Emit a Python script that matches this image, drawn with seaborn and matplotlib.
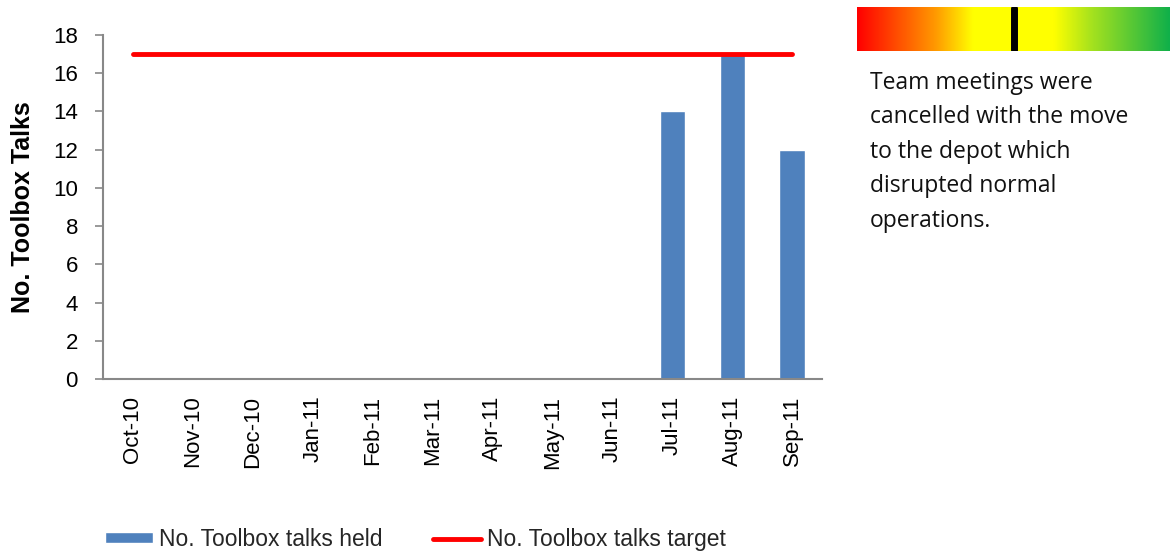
import numpy as np
import matplotlib
matplotlib.use("Agg")
import matplotlib.pyplot as plt
import seaborn as sns
from matplotlib.colors import LinearSegmentedColormap
from matplotlib.lines import Line2D
from matplotlib.patches import Patch

# ---- data ----
months = ["Oct-10", "Nov-10", "Dec-10", "Jan-11", "Feb-11", "Mar-11",
          "Apr-11", "May-11", "Jun-11", "Jul-11", "Aug-11", "Sep-11"]
talks_held = [0, 0, 0, 0, 0, 0, 0, 0, 0, 14, 17, 12]
talks_target = [17] * 12
y_ticks = [0, 2, 4, 6, 8, 10, 12, 14, 16, 18]

# RAG gauge
gauge_colors = ["#FF0000", "#FF9900", "#FFFF00", "#FFFF00", "#A6E21E", "#10B04A"]
gauge_stops = [0.0, 0.25, 0.37, 0.63, 0.75, 1.0]
gauge_value = 0.5

note = "Team meetings were\ncancelled with the move\nto the depot which\ndisrupted normal\noperations."

sns.set_theme(style="white")
plt.rcParams["font.family"] = ["Liberation Sans", "DejaVu Sans"]

fig = plt.figure(figsize=(11.71, 5.54), dpi=100)
ax = fig.add_axes([103 / 1171, 1 - 379 / 554, 719 / 1171, 344 / 554])

sns.barplot(x=months, y=talks_held, color="#4F81BD", width=0.42,
            saturation=1, ax=ax)
sns.lineplot(x=np.arange(len(months)), y=talks_target, color="#FF0000",
             linewidth=3.5, ax=ax, solid_capstyle="round")

ax.set_xlim(-0.5, len(months) - 0.5)
ax.set_ylim(0, 18)
ax.set_yticks(y_ticks)
ax.tick_params(axis="y", labelsize=16, length=6, width=1.2, color="#888888",
               labelcolor="black", direction="out", left=True, pad=12)
ax.tick_params(axis="x", labelsize=16, rotation=90, bottom=False, pad=6,
               labelcolor="black")
ax.set_xlabel("")
ax.set_ylabel("No. Toolbox Talks", fontsize=18, fontweight="bold", labelpad=13,
              color="black")
for s in ["top", "right"]:
    ax.spines[s].set_visible(False)
for s in ["left", "bottom"]:
    ax.spines[s].set_color("#888888")
    ax.spines[s].set_linewidth(1.5)

handles = [Patch(facecolor="#4F81BD", label="No. Toolbox talks held"),
           Line2D([0], [0], color="#FF0000", linewidth=3.5,
                  solid_capstyle="round", label="No. Toolbox talks target")]
fig.legend(handles=handles, loc="lower left", bbox_to_anchor=(0.072, -0.032),
           ncol=2, frameon=False, fontsize=16.5, handlelength=2.1,
           handleheight=0.35, handletextpad=0.25, columnspacing=2.2)

# gauge
gax = fig.add_axes([857 / 1171, 1 - 51 / 554, 313 / 1171, 44 / 554])
cmap = LinearSegmentedColormap.from_list("rag", list(zip(gauge_stops, gauge_colors)))
gax.imshow(np.linspace(0, 1, 512)[None, :], aspect="auto", cmap=cmap,
           extent=[0, 1, 0, 1])
gax.axvline(gauge_value, ymin=0.03, ymax=0.97, color="black", linewidth=5)
gax.set_xlim(0, 1)
gax.set_ylim(0, 1)
gax.axis("off")

fig.text(870 / 1171, 1 - 71 / 554, note, fontsize=16.5, family=["Open Sans", "DejaVu Sans"],
         va="top", ha="left", linespacing=1.58, color="#111111")

fig.savefig("out.png", dpi=100)
